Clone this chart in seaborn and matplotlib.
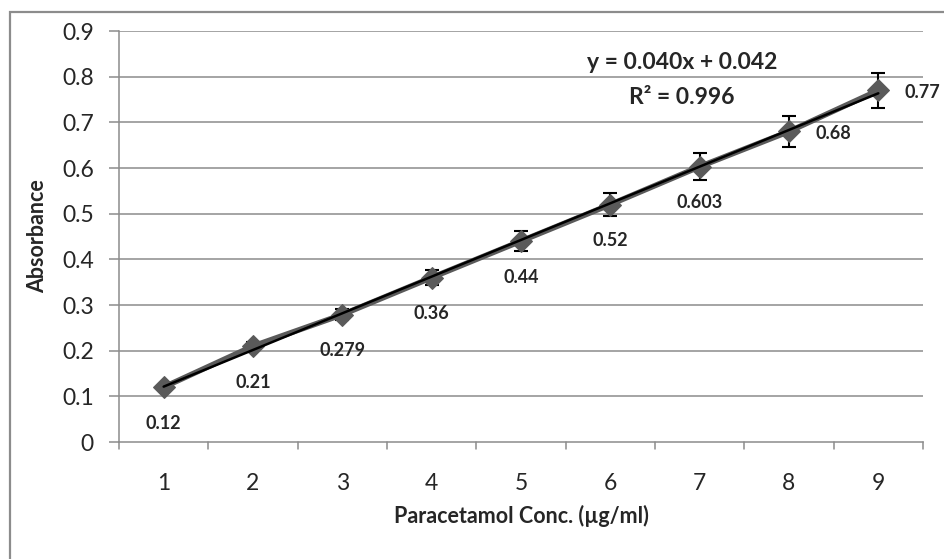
import matplotlib
matplotlib.use("Agg")
import matplotlib.pyplot as plt
import seaborn as sns
import pandas as pd
from matplotlib.patches import Rectangle

# Calibration data
conc = [1, 2, 3, 4, 5, 6, 7, 8, 9]
absorbance = [0.12, 0.21, 0.279, 0.36, 0.44, 0.52, 0.603, 0.68, 0.77]
abs_err = [0.005, 0.008, 0.012, 0.016, 0.021, 0.025, 0.03, 0.034, 0.039]
value_labels = ["0.12", "0.21", "0.279", "0.36", "0.44", "0.52", "0.603", "0.68", "0.77"]
y_ticks = [0, 0.1, 0.2, 0.3, 0.4, 0.5, 0.6, 0.7, 0.8, 0.9]
y_tick_labels = ["0", "0.1", "0.2", "0.3", "0.4", "0.5", "0.6", "0.7", "0.8", "0.9"]
equation_text = "y = 0.040x + 0.042"
r2_text = "R² = 0.996"

df = pd.DataFrame({"conc": conc, "absorbance": absorbance})

sns.set_theme(style="white")
plt.rcParams["font.family"] = ["Lato", "DejaVu Sans"]

fig = plt.figure(figsize=(9.45, 5.59), dpi=100)
ax = fig.add_axes([0.1259, 0.2093, 0.8508, 0.7352])

# chart frame (runs past the right and bottom edges)
fig.patches.append(Rectangle((10 / 945, -0.1), 1.2, 1.1 - 12 / 559,
                             transform=fig.transFigure, fill=False,
                             edgecolor="#8c8c8c", linewidth=1.6))

# gridlines
for t in y_ticks[1:]:
    ax.axhline(t, color="#8c8c8c", linewidth=1.1, zorder=0)

# error bars
ax.errorbar(conc, absorbance, yerr=abs_err, fmt="none", ecolor="black",
            elinewidth=1.5, capsize=5, capthick=1.5, zorder=3)

# measured series
sns.lineplot(data=df, x="conc", y="absorbance", ax=ax, color="#5a5a5a",
             linewidth=4, marker="D", markersize=11, markeredgecolor="#5a5a5a",
             zorder=4)

# linear trendline
sns.regplot(data=df, x="conc", y="absorbance", ax=ax, scatter=False, ci=None,
            color="black", line_kws={"linewidth": 1.8, "zorder": 5})

# value labels
for i, (x, y, s) in enumerate(zip(conc, absorbance, value_labels)):
    if i < 7:
        ax.annotate(s, (x, y), xytext=(0, -26), textcoords="offset points",
                    ha="center", va="center", fontsize=13, fontweight="bold")
    else:
        ax.annotate(s, (x, y), xytext=(32, -1.5), textcoords="offset points",
                    ha="center", va="center", fontsize=13, fontweight="bold")

ax.text(6.80, 0.832, equation_text, ha="center", va="center",
        fontsize=16.5, fontweight="bold")
ax.text(6.80, 0.755, r2_text, ha="center", va="center",
        fontsize=16.5, fontweight="bold")

ax.set_xlim(0.5, 9.5)
ax.set_ylim(0, 0.9)
ax.set_yticks(y_ticks)
ax.set_yticklabels(y_tick_labels, fontsize=16.5)
ax.set_xticks(conc)
ax.set_xticklabels([str(c) for c in conc], fontsize=16.5)
ax.tick_params(axis="x", length=0, pad=22)
ax.tick_params(axis="y", length=7, width=1.1, color="#8c8c8c", left=True, pad=11)

# category boundary ticks on x axis
for b in [0.5 + k for k in range(10)]:
    ax.plot([b, b], [0, -0.0155], color="#8c8c8c", linewidth=1.1,
            clip_on=False, zorder=1)

for side in ["top", "right"]:
    ax.spines[side].set_visible(False)
for side in ["left", "bottom"]:
    ax.spines[side].set_color("#8c8c8c")
    ax.spines[side].set_linewidth(1.1)

ax.set_xlabel("Paracetamol Conc. (µg/ml)", fontsize=15.5, fontweight="bold",
              labelpad=8)
ax.set_ylabel("Absorbance", fontsize=15.5, fontweight="bold", labelpad=10)

fig.savefig("out.png", dpi=100)
